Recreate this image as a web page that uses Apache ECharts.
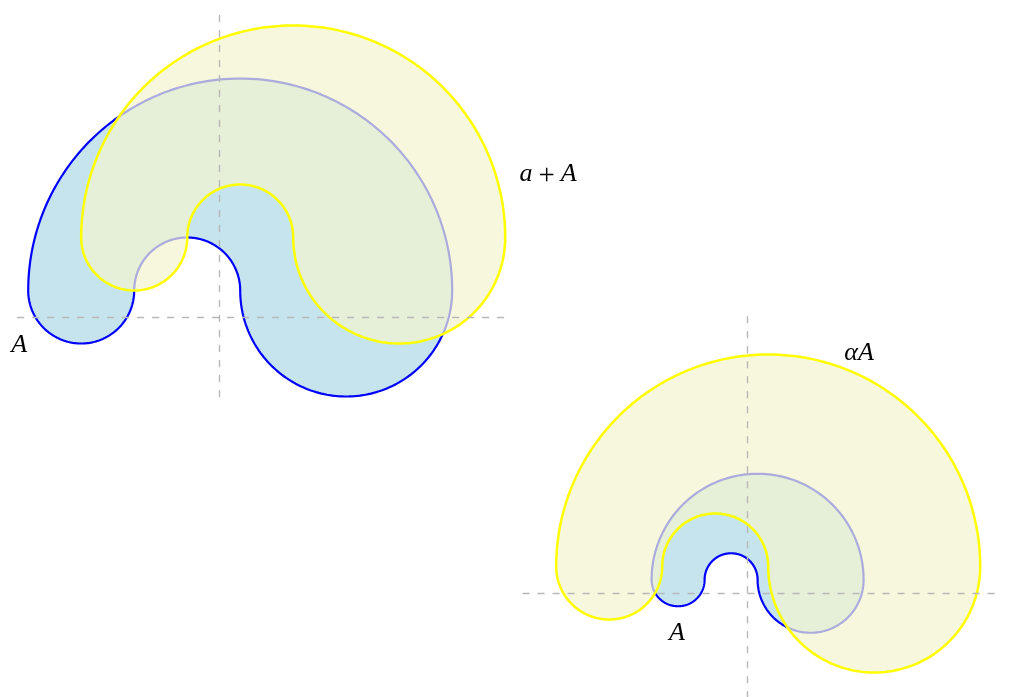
<!DOCTYPE html>
<html>
<head>
<meta charset="utf-8">
<script src="https://cdn.jsdelivr.net/npm/echarts@6/dist/echarts.min.js"></script>
<style>
  html, body { margin: 0; padding: 0; background: #fff; }
  #chart { width: 1011px; height: 697px; }
</style>
</head>
<body>
<div id="chart"></div>
<script>
// Outline of the set A, as arcs traced in order:
// [dx, dy, radius, startDeg, endDeg], relative to the centre of the big arc.
const arcsA = [
  [0, 0, 4, 180, 0],     // outer arc over the top
  [2, 0, 2, 0, -180],    // right end cap
  [-1, 0, 1, 0, 180],    // inner arc
  [-3, 0, 1, 0, -180]    // left end cap
];
const centreA = [0.4, 0.5];
const shiftA = [1, 1];   // the vector a
const alpha = 2;         // the scalar α

// Shapes per panel: [centreX, centreY, scale, styleIndex]
const shapesLeft = [
  [centreA[0], centreA[1], 1, 0],
  [centreA[0] + shiftA[0], centreA[1] + shiftA[1], 1, 1]
];
const shapesRight = [
  [centreA[0], centreA[1], 1, 0],
  [alpha * centreA[0], alpha * centreA[1], alpha, 1]
];

// Labels per panel: [x, y, text]
const labelsLeft = [[-3.77, -0.53, 'A'], [6.21, 2.70, 'a + A']];
const labelsRight = [[4.23, 9.06, 'αA'], [-2.64, -1.51, 'A']];

// Axis extents per panel
const rangeLeft = { x: [-3.8, 5.5], y: [-1.5, 5.8] };
const rangeRight = { x: [-8.45, 9.65], y: [-3.95, 10.55] };

const shapeStyles = [
  { fill: '#c5e4ee', stroke: '#0000ff', lineWidth: 2.2 },
  { fill: 'rgba(244,244,206,0.7)', stroke: '#ffff00', lineWidth: 2.5 }
];

function outline(cx, cy, k, api) {
  const pts = [];
  arcsA.forEach(([dx, dy, r, a0, a1]) => {
    const n = Math.ceil(Math.abs(a1 - a0) / 1.5);
    for (let i = 0; i <= n; i++) {
      const t = (a0 + (a1 - a0) * i / n) * Math.PI / 180;
      pts.push(api.coord([cx + k * (dx + r * Math.cos(t)), cy + k * (dy + r * Math.sin(t))]));
    }
  });
  return pts;
}

function shapeSeries(shapes, idx) {
  return {
    type: 'custom',
    xAxisIndex: idx, yAxisIndex: idx,
    clip: false,
    silent: true,
    z: 2,
    data: shapes,
    renderItem: (params, api) => {
      const s = shapes[params.dataIndex];
      const st = shapeStyles[s[3]];
      return {
        type: 'polygon',
        z2: params.dataIndex,
        shape: { points: outline(s[0], s[1], s[2], api) },
        style: { fill: st.fill, stroke: st.stroke, lineWidth: st.lineWidth, lineJoin: 'round' }
      };
    }
  };
}

const FONT = '"Liberation Serif", "DejaVu Serif", serif';
const FS = 26;

// Letters are set in italic, operators upright with some room around them.
function mathRich(text) {
  return text
    .replace(/ /g, '')
    .replace(/([A-Za-z\u03b1-\u03c9])/g, '{i|$1}')
    .replace(/\+/g, '{op|+}');
}

function labelSeries(labels, idx) {
  return {
    type: 'custom',
    xAxisIndex: idx, yAxisIndex: idx,
    clip: false,
    silent: true,
    z: 6,
    data: labels.map(l => [l[0], l[1]]),
    renderItem: (params, api) => {
      const l = labels[params.dataIndex];
      const p = api.coord([l[0], l[1]]);
      return {
        type: 'text',
        x: p[0], y: p[1],
        style: {
          text: mathRich(l[2]),
          fontFamily: FONT, fontSize: FS, fill: '#000',
          align: 'center', verticalAlign: 'middle',
          rich: {
            i: { fontFamily: FONT, fontSize: FS, fontStyle: 'italic', fill: '#000', lineHeight: 30 },
            op: { fontFamily: FONT, fontSize: 29, fill: '#000', padding: [4, 6, 0, 6], lineHeight: 30 }
          }
        }
      };
    }
  };
}

const axisCommon = {
  type: 'value',
  axisLine: { onZero: true, lineStyle: { color: '#b8b8b8', width: 1.4, type: [6, 9] } },
  axisTick: { show: false },
  axisLabel: { show: false },
  splitLine: { show: false },
  z: 5
};

const U1 = 53, U2 = 26.5;      // pixels per unit in each panel
const O1 = [219, 317], O2 = [747, 593];

const chart = echarts.init(document.getElementById('chart'), null, { renderer: 'canvas' });
chart.setOption({
  animation: false,
  backgroundColor: '#fff',
  grid: [
    {
      left: O1[0] + rangeLeft.x[0] * U1,
      top: O1[1] - rangeLeft.y[1] * U1,
      width: (rangeLeft.x[1] - rangeLeft.x[0]) * U1,
      height: (rangeLeft.y[1] - rangeLeft.y[0]) * U1,
      outerBoundsMode: 'none'
    },
    {
      left: O2[0] + rangeRight.x[0] * U2,
      top: O2[1] - rangeRight.y[1] * U2,
      width: (rangeRight.x[1] - rangeRight.x[0]) * U2,
      height: (rangeRight.y[1] - rangeRight.y[0]) * U2,
      outerBoundsMode: 'none'
    }
  ],
  xAxis: [
    Object.assign({}, axisCommon, { gridIndex: 0, min: rangeLeft.x[0], max: rangeLeft.x[1] }),
    Object.assign({}, axisCommon, { gridIndex: 1, min: rangeRight.x[0], max: rangeRight.x[1] })
  ],
  yAxis: [
    Object.assign({}, axisCommon, { gridIndex: 0, min: rangeLeft.y[0], max: rangeLeft.y[1] }),
    Object.assign({}, axisCommon, { gridIndex: 1, min: rangeRight.y[0], max: rangeRight.y[1] })
  ],
  series: [
    shapeSeries(shapesLeft, 0),
    shapeSeries(shapesRight, 1),
    labelSeries(labelsLeft, 0),
    labelSeries(labelsRight, 1)
  ]
});
</script>
</body>
</html>
